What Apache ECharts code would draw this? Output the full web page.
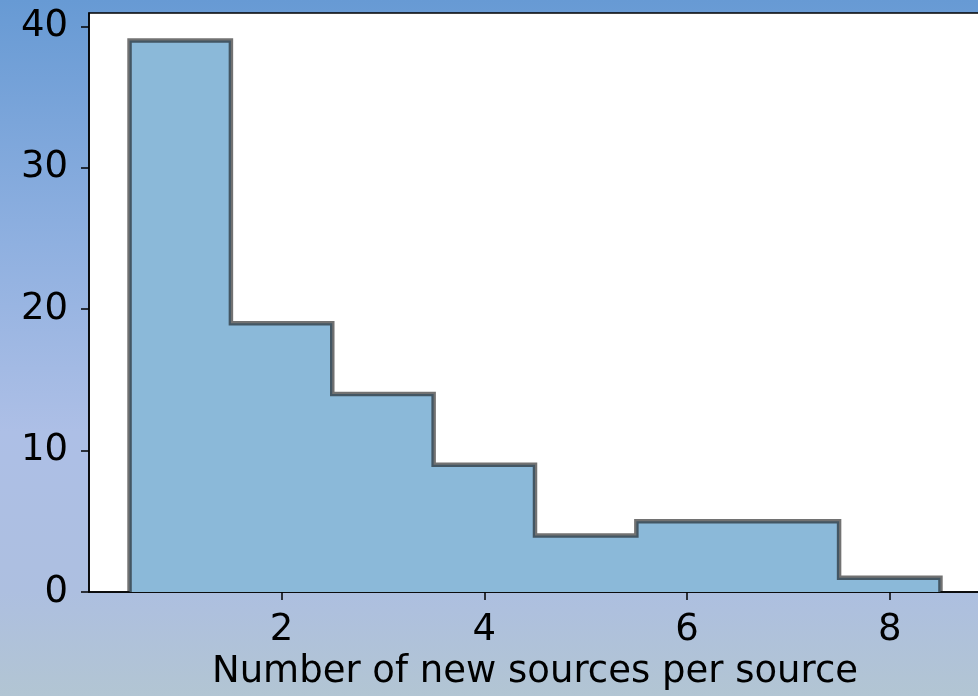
<!DOCTYPE html>
<html>
<head>
<meta charset="utf-8">
<script src="https://cdn.jsdelivr.net/npm/echarts@6/dist/echarts.min.js"></script>
<style>
html,body{margin:0;padding:0;}
#chart{width:978px;height:696px;background:linear-gradient(to bottom,#679ad4 0%,#8fb0e0 35%,#adbfe6 62%,#adbfe0 85%,#b2c5d3 100%);}
</style>
</head>
<body>
<div id="chart"></div>
<script>
const binEdges = [0.5, 1.5, 2.5, 3.5, 4.5, 5.5, 6.5, 7.5, 8.5];
const counts = [39, 19, 14, 9, 4, 5, 5, 1];
const xTicks = [2, 4, 6, 8];
const yTicks = [0, 10, 20, 30, 40];
const xLabel = 'Number of new sources per source';

// step outline points built from bin edges and counts
const stepPoints = [[binEdges[0], 0]];
for (let i = 0; i < counts.length; i++) {
  stepPoints.push([binEdges[i], counts[i]]);
  stepPoints.push([binEdges[i + 1], counts[i]]);
}
stepPoints.push([binEdges[binEdges.length - 1], 0]);

const chart = echarts.init(document.getElementById('chart'), null, {renderer: 'canvas'});
const font = 'DejaVu Sans';
chart.setOption({
  backgroundColor: 'transparent',
  animation: false,
  grid: {
    left: 89, top: 13, width: 892, height: 579,
    outerBoundsMode: 'none', containLabel: false,
    show: true, backgroundColor: '#ffffff', borderColor: '#000000', borderWidth: 1.5
  },
  xAxis: {
    type: 'value', min: 0.1, max: 8.9, interval: 2,
    splitLine: {show: false},
    axisLine: {show: true, onZero: false, lineStyle: {color: '#000', width: 1.5}},
    axisTick: {show: true, length: 8, lineStyle: {color: '#000', width: 1.5},
      customValues: xTicks},
    axisLabel: {color: '#000', fontFamily: font, fontSize: 37, margin: 20,
      customValues: xTicks},
    name: xLabel, nameLocation: 'middle', nameGap: 61,
    nameTextStyle: {color: '#000', fontFamily: font, fontSize: 37}
  },
  yAxis: {
    type: 'value', min: 0, max: 40.95, interval: 10,
    splitLine: {show: false},
    axisLine: {show: true, lineStyle: {color: '#000', width: 1.5}},
    axisTick: {show: true, length: 8, lineStyle: {color: '#000', width: 1.5},
      customValues: yTicks},
    axisLabel: {color: '#000', fontFamily: font, fontSize: 37, margin: 21,
      customValues: yTicks}
  },
  series: [{
    type: 'line',
    data: stepPoints,
    symbol: 'none',
    lineStyle: {color: 'rgba(20,20,20,0.6)', width: 4.5, join: 'miter'},
    areaStyle: {color: '#8bb9d9', opacity: 1},
    z: 3
  }]
});
</script>
</body>
</html>
